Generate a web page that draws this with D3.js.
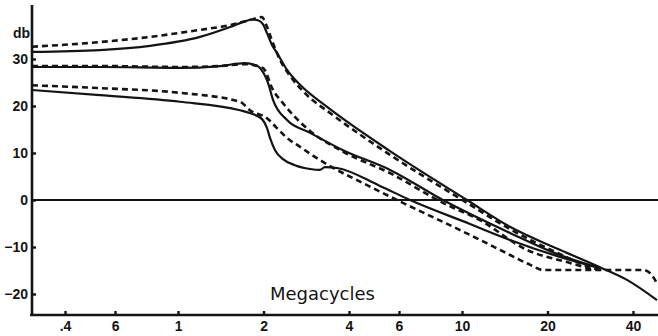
<!DOCTYPE html>
<html>
<head>
<meta charset="utf-8">
<script src="https://cdn.jsdelivr.net/npm/d3@7"></script>
<style>
  html, body { margin: 0; padding: 0; background: #fff; }
  svg { display: block; }
</style>
</head>
<body>
<svg id="chart" width="658" height="336"></svg>
<script>
// Gain (db) versus frequency (Megacycles), measured (solid) and computed (dashed)
const xTickValues = [0.4, 0.6, 1, 2, 4, 6, 10, 20, 40];
const xTickLabels = [".4", "6", "1", "2", "4", "6", "10", "20", "40"];
const yTickValues = [30, 20, 10, 0, -10, -20];

// Upper pair
const upperMeasured = [
  [0.306, 31.5], [0.531, 31.9], [0.797, 32.8], [1.195, 34.7], [1.525, 36.8],
  [1.72, 38.0], [1.82, 38.4], [1.92, 38.2], [1.99, 37.4], [2.058, 35.5], [2.14, 33.0],
  [2.23, 31.3], [2.42, 27.7], [2.69, 24.5], [3.35, 19.8], [5.58, 10.4],
  [10.41, 0], [14.75, -5.7], [22.1, -10.6], [30.6, -14.3], [38.1, -17.0], [48.6, -21.3]
];
const upperComputed = [
  [0.306, 32.6], [0.531, 33.6], [0.797, 34.7], [1.195, 36.2], [1.525, 37.2],
  [1.79, 38.3], [1.976, 38.9], [2.04, 37.4], [2.14, 34.0], [2.286, 29.8],
  [2.48, 26.4], [2.845, 22.3], [3.43, 18.5], [5.58, 9.6], [10.41, -0.6],
  [14.75, -6.2], [22.1, -11.5], [28.9, -14.5], [30.6, -14.9]
];

// Middle pair
const middleMeasured = [
  [0.306, 28.3], [0.531, 28.3], [1.016, 28.1], [1.406, 28.5], [1.72, 29.1],
  [1.867, 28.7], [1.944, 28.1], [2.074, 24.9], [2.16, 21.3], [2.42, 17.0],
  [2.916, 14.3], [3.81, 10.6], [5.58, 6.4], [8.57, 0], [14.75, -7.0],
  [22.1, -11.7], [30.6, -14.5]
];
const middleComputed = [
  [0.306, 28.5], [0.531, 28.5], [1.016, 28.3], [1.406, 28.5], [1.72, 28.9],
  [1.99, 28.1], [2.16, 23.4], [2.342, 20.6], [2.54, 18.1], [2.916, 14.7],
  [3.81, 10.3], [5.58, 5.7], [8.57, -0.6], [11.57, -4.3], [16.9, -10.6],
  [24.0, -13.4], [28.9, -14.8]
];

// Lower pair
const lowerMeasured = [
  [0.306, 23.4], [0.531, 22.3], [1.016, 20.9], [1.653, 19.1], [1.79, 18.5],
  [1.976, 17.2], [2.058, 15.3], [2.108, 13.2], [2.196, 10.6], [2.342, 8.7],
  [2.58, 7.4], [2.916, 6.6], [3.16, 6.4], [3.29, 7.0], [3.63, 6.8],
  [5.14, 3.0], [6.56, 0], [10.67, -5.1], [14.75, -8.5], [22.1, -12.1], [30.6, -14.5]
];
const lowerComputed = [
  [0.306, 24.4], [0.531, 23.8], [1.016, 22.8], [1.653, 20.9], [1.79, 19.1],
  [2.058, 17.4], [2.23, 15.3], [2.42, 13.2], [2.69, 11.3], [3.086, 8.9],
  [3.43, 7.2], [4.48, 3.6], [5.9, 0], [9.84, -6.4], [13.6, -10.6],
  [17.4, -13.8], [19.28, -14.9], [43.4, -14.9], [46.0, -15.6], [48.6, -17.7]
];

const svg = d3.select("#chart");
const ink = "#141414";

const x = d3.scaleLog().domain([0.306, 49]).range([32, 658]);
const y = d3.scaleLinear().domain([-24.47, 42.55]).range([315, 0]);

// Axes
const xAxis = d3.axisBottom(x)
  .tickValues(xTickValues)
  .tickFormat((d, i) => xTickLabels[i])
  .tickSizeInner(-4).tickSizeOuter(0).tickPadding(6);
const yAxis = d3.axisLeft(y)
  .tickValues(yTickValues)
  .tickFormat(d3.format("d"))
  .tickSizeInner(-4).tickSizeOuter(0).tickPadding(4);

const gx = svg.append("g").attr("transform", "translate(0,315)").call(xAxis);
const gy = svg.append("g").attr("transform", "translate(32,0)").call(yAxis);

[gx, gy].forEach(g => {
  g.select(".domain").attr("stroke", ink).attr("stroke-width", 2.6);
  g.selectAll(".tick line").attr("stroke", ink).attr("stroke-width", 2.4);
  g.selectAll(".tick text")
    .attr("fill", ink)
    .style("font-family", "'Liberation Sans', Arial, sans-serif")
    .style("font-weight", "bold")
    .style("font-size", "14px");
});
gx.select(".domain").attr("d", "M30,0H658");
gy.select(".domain").attr("d", "M0,5V316");

// Zero reference line
svg.append("line")
  .attr("x1", 32).attr("x2", 658)
  .attr("y1", y(0)).attr("y2", y(0))
  .attr("stroke", ink).attr("stroke-width", 2.2);

// Unit label
svg.append("text")
  .attr("x", 30).attr("y", y(35.6))
  .attr("dy", "0.35em")
  .attr("text-anchor", "end")
  .attr("fill", ink)
  .style("font-family", "'Liberation Sans', Arial, sans-serif")
  .style("font-weight", "bold")
  .style("font-size", "14px")
  .text("db");

// Axis title
svg.append("text")
  .attr("x", 270).attr("y", 300)
  .attr("fill", ink)
  .style("font-family", "'DejaVu Sans', sans-serif")
  .style("font-size", "18px")
  .text("Megacycles");

// Curves
const line = d3.line()
  .x(d => x(d[0]))
  .y(d => y(d[1]))
  .curve(d3.curveMonotoneX);

const curves = [
  { data: upperMeasured, dashed: false },
  { data: middleMeasured, dashed: false },
  { data: lowerMeasured, dashed: false },
  { data: upperComputed, dashed: true },
  { data: middleComputed, dashed: true },
  { data: lowerComputed, dashed: true }
];

svg.append("g").selectAll("path")
  .data(curves)
  .join("path")
  .attr("d", d => line(d.data))
  .attr("fill", "none")
  .attr("stroke", ink)
  .attr("stroke-width", d => d.dashed ? 2.6 : 2.2)
  .attr("stroke-linejoin", "round")
  .attr("stroke-dasharray", d => d.dashed ? "6,4" : null);
</script>
</body>
</html>
